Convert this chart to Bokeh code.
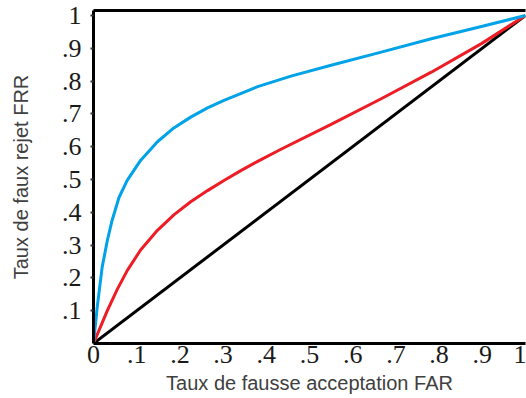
from bokeh.plotting import figure
from bokeh.models import Range1d, FixedTicker, LinearAxis
from bokeh.embed import file_html
from bokeh.resources import INLINE

# Blue curve (FAR, FRR)
far_blue = [0.0, 0.0086, 0.020, 0.032, 0.043, 0.059, 0.078, 0.109, 0.148, 0.186,
            0.225, 0.264, 0.302, 0.380, 0.457, 0.550, 0.666, 0.782, 0.898, 1.0]
frr_blue = [0.0, 0.111, 0.232, 0.314, 0.375, 0.445, 0.497, 0.558, 0.615, 0.657,
            0.690, 0.718, 0.741, 0.783, 0.815, 0.848, 0.888, 0.929, 0.966, 1.0]

# Red curve
far_red = [0.0, 0.032, 0.055, 0.078, 0.109, 0.148, 0.186, 0.225, 0.264, 0.302,
           0.341, 0.380, 0.434, 0.550, 0.666, 0.782, 0.898, 1.0]
frr_red = [0.0, 0.100, 0.165, 0.222, 0.285, 0.345, 0.392, 0.432, 0.466, 0.497,
           0.527, 0.555, 0.592, 0.668, 0.746, 0.827, 0.914, 1.0]

# Black diagonal
far_black = [0.0, 1.0]
frr_black = [0.0, 1.0]

x_ticks = [0.0, 0.1, 0.2, 0.3, 0.4, 0.5, 0.6, 0.7, 0.8, 0.9, 1.0]
x_labels = ["0", ".1", ".2", ".3", ".4", ".5", ".6", ".7", ".8", ".9", "1"]
y_ticks = [0.1, 0.2, 0.3, 0.4, 0.5, 0.6, 0.7, 0.8, 0.9, 1.0]
y_labels = [".1", ".2", ".3", ".4", ".5", ".6", ".7", ".8", ".9", "1"]

x_title = "Taux de fausse acceptation FAR"
y_title = "Taux de faux rejet FRR"

p = figure(width=526, height=398, output_backend="svg", toolbar_location=None,
           x_range=Range1d(0, 1.0), y_range=Range1d(0, 1.015),
           min_border_left=93, min_border_right=1, min_border_top=10,
           min_border_bottom=55)
p.grid.visible = False
p.outline_line_color = None
p.background_fill_color = "white"
p.border_fill_color = "white"

p.line(far_black, frr_black, line_color="black", line_width=3)
p.line(far_red, frr_red, line_color="#ee1c24", line_width=3, line_join="round")
p.line(far_blue, frr_blue, line_color="#00a2e8", line_width=3, line_join="round")

label_font = "Liberation Serif"
title_font = "Liberation Sans"

xa = p.xaxis[0]
xa.ticker = FixedTicker(ticks=x_ticks)
xa.major_label_overrides = dict(zip(x_ticks, x_labels))
xa.axis_line_width = 3
xa.axis_line_color = "black"
xa.major_tick_out = 0
xa.major_tick_in = 0
xa.minor_tick_out = 0
xa.minor_tick_in = 0
xa.major_label_standoff = 2
xa.major_label_text_font = label_font
xa.major_label_text_font_size = "26px"
xa.major_label_text_color = "#1a1a1a"
xa.axis_label = x_title
xa.axis_label_text_font = title_font
xa.axis_label_text_font_size = "20px"
xa.axis_label_text_font_style = "normal"
xa.axis_label_text_color = "#404040"
xa.axis_label_standoff = 6

ya = p.yaxis[0]
ya.ticker = FixedTicker(ticks=y_ticks)
ya.major_label_overrides = dict(zip(y_ticks, y_labels))
ya.axis_line_width = 3
ya.axis_line_color = "black"
ya.major_tick_out = 3
ya.major_tick_in = 0
ya.major_tick_line_width = 2
ya.major_tick_line_color = "#333333"
ya.minor_tick_out = 0
ya.minor_tick_in = 0
ya.major_label_standoff = 9
ya.major_label_text_font = label_font
ya.major_label_text_font_size = "26px"
ya.major_label_text_color = "#1a1a1a"
ya.axis_label = y_title
ya.axis_label_text_font = title_font
ya.axis_label_text_font_size = "20px"
ya.axis_label_text_font_style = "normal"
ya.axis_label_text_color = "#404040"
ya.axis_label_standoff = 27

top = LinearAxis(ticker=FixedTicker(ticks=[]), axis_line_width=3,
                 axis_line_color="black", major_tick_out=0, major_tick_in=0,
                 minor_tick_out=0, minor_tick_in=0,
                 major_label_text_font_size="0px")
p.add_layout(top, "above")

open("out.html", "w").write(file_html(p, INLINE))
